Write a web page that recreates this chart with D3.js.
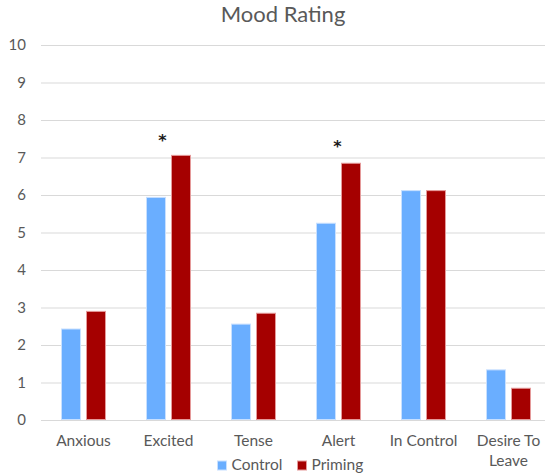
<!DOCTYPE html>
<html><head><meta charset="utf-8">
<script src="https://cdn.jsdelivr.net/npm/d3@7"></script>
<style>
html,body{margin:0;padding:0;background:#fff;}
svg{display:block;font-family:Lato,"Open Sans",sans-serif;}
</style></head>
<body>
<svg id="chart" width="545" height="475"></svg>
<script>
const categories = ["Anxious", "Excited", "Tense", "Alert", "In Control", "Desire To Leave"];
const series = ["Control", "Priming"];
const controlValues = [2.44, 5.95, 2.57, 5.26, 6.13, 1.35];
const primingValues = [2.91, 7.07, 2.86, 6.86, 6.13, 0.86];
const yTicks = [0, 1, 2, 3, 4, 5, 6, 7, 8, 9, 10];
const annotations = [
  {category: "Excited", value: 7.55, dx: -6, text: "*"},
  {category: "Alert", value: 7.39, dx: -1, text: "*"}
];
const colors = {Control: "#6aaeff", Priming: "#a50000"};
const strokes = {Control: "#c8e0ff", Priming: "#e59a9a"};

const svg = d3.select("#chart");
const plotLeft = 41, plotRight = 551, plotTop = 45, plotBottom = 420;

const x = d3.scaleBand().domain(categories).range([plotLeft, plotRight]).paddingInner(40/85).paddingOuter(20/85);
const xs = d3.scaleBand().domain(series).range([0, x.bandwidth()]).paddingInner(0.2);
const y = d3.scaleLinear().domain([0, 10]).range([plotBottom, plotTop]);

// gridlines
svg.append("g").selectAll("line").data(yTicks).join("line")
  .attr("x1", plotLeft).attr("x2", 545)
  .attr("y1", d => y(d) + 0.5).attr("y2", d => y(d) + 0.5)
  .attr("stroke", "#d9d9d9").attr("stroke-width", 1);

// y axis labels
const yAxis = d3.axisLeft(y).tickValues(yTicks).tickSize(0).tickPadding(0);
const ga = svg.append("g").attr("transform", `translate(26,0)`).call(yAxis);
ga.select(".domain").remove();
ga.selectAll("text").attr("font-family", "Lato, sans-serif").attr("font-size", "15px").attr("fill", "#595959");

// bars
const data = categories.map((c, i) => ({category: c, Control: controlValues[i], Priming: primingValues[i]}));
const groups = svg.append("g").selectAll("g").data(data).join("g")
  .attr("transform", d => `translate(${x(d.category)},0)`);
groups.selectAll("rect").data(d => series.map(s => ({s, v: d[s]}))).join("rect")
  .attr("x", d => xs(d.s) + 0.5)
  .attr("y", d => y(d.v) + 0.5)
  .attr("width", xs.bandwidth() - 1)
  .attr("height", d => y(0) - y(d.v) - 1)
  .attr("fill", d => colors[d.s])
  .attr("stroke", d => strokes[d.s])
  .attr("stroke-width", 1);

// x axis labels
const xl = svg.append("g").selectAll("text").data(categories).join("text")
  .attr("x", d => x(d) + x.bandwidth()/2)
  .attr("y", 446)
  .attr("text-anchor", "middle")
  .attr("font-size", "15.5px").attr("fill", "#595959");
xl.each(function(d) {
  const t = d3.select(this);
  const lines = d === "Desire To Leave" ? ["Desire To", "Leave"] : [d];
  lines.forEach((l, i) => t.append("tspan").attr("x", x(d) + x.bandwidth()/2).attr("dy", i ? 20 : 0).text(l));
});

// annotations
svg.append("g").selectAll("text").data(annotations).join("text")
  .attr("x", d => x(d.category) + x.bandwidth()/2 + d.dx)
  .attr("y", d => y(d.value) + 9)
  .attr("text-anchor", "middle")
  .attr("font-family", "DejaVu Sans, sans-serif")
  .attr("font-size", "16px").attr("font-weight", "bold").attr("fill", "#1a1a1a")
  .text(d => d.text);

// title
svg.append("text").attr("x", 283).attr("y", 22).attr("text-anchor", "middle")
  .attr("font-size", "22px").attr("fill", "#595959").text("Mood Rating");

// legend
const legendX = [217, 297];
const lg = svg.append("g").selectAll("g").data(series).join("g")
  .attr("transform", (d, i) => `translate(${legendX[i]},0)`);
lg.append("rect").attr("x", 0.5).attr("y", 461).attr("width", 9).attr("height", 9)
  .attr("fill", d => colors[d]).attr("stroke", d => strokes[d]).attr("stroke-width", 1);
lg.append("text").attr("x", 14.5).attr("y", 470).attr("font-size", "15.5px").attr("fill", "#595959").text(d => d);
</script>
</body></html>
